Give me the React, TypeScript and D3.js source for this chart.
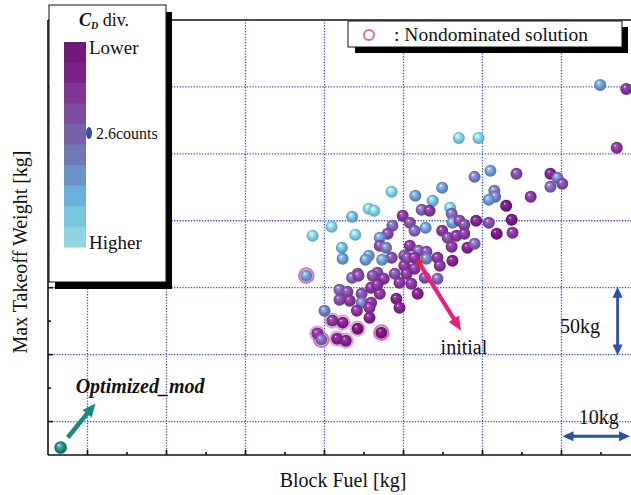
import React from "react";
import * as d3 from "d3";

// ---- data ----
const blockFuel = [
  64.9, 68.2, 47.0, 49.5, 67.0, 51.0, 49.0, 54.3, 58.6, 59.5, 60.1, 58.6, 44.9, 41.5, 51.5, 51.6, 50.8, 56.1, 53.0, 43.7,
  45.9, 42.3, 43.3, 38.5, 35.6, 36.3, 33.5, 30.9, 28.5, 33.9, 32.2, 32.3, 35.6, 35.2, 39.9, 38.6, 38.0, 37.0, 37.0, 37.8,
  38.5, 40.1, 37.3, 36.7, 38.9, 34.2, 40.1, 40.8, 42.8, 41.4, 46.1, 46.2, 47.1, 47.7, 49.2, 50.8, 53.7, 51.8, 53.8, 44.9,
  45.6, 46.7, 47.7, 46.1, 48.1, 49.0, 40.8, 41.9, 42.9, 40.5, 41.4, 42.9, 44.3, 46.2, 44.6, 41.4, 42.7, 44.3, 40.4, 27.7,
  33.5, 34.3, 36.1, 37.5, 39.5, 41.0, 41.8, 31.9, 32.9, 34.7, 35.9, 37.0, 31.9, 33.2, 34.7, 35.9, 34.1, 35.7, 39.1, 39.5,
  30.0, 31.0, 32.3, 35.7, 34.2, 37.2, 29.1, 29.6, 31.6, 32.7, 36.7,
];
const takeoffWeight = [
  251.5, 248.5, 211.9, 211.9, 204.5, 187.3, 182.8, 185.1, 185.1, 182.1, 177.6, 175.4, 174.6, 168.7, 172.4, 167.9, 165.7, 167.9, 161.2, 164.9,
  159.7, 158.2, 157.5, 171.6, 159.0, 157.5, 153.0, 145.5, 138.8, 139.6, 129.9, 121.6, 123.9, 120.9, 153.7, 146.3, 140.3, 137.3, 131.3, 129.9,
  122.4, 123.9, 120.9, 111.2, 110.4, 110.4, 116.4, 148.5, 144.8, 142.5, 155.2, 148.5, 150.0, 147.0, 150.0, 148.5, 150.7, 140.3, 141.0, 142.5,
  137.3, 138.8, 140.3, 130.6, 129.9, 132.8, 131.3, 127.6, 126.9, 122.4, 122.4, 121.6, 122.4, 120.1, 116.4, 114.2, 107.5, 106.7, 110.4, 109.0,
  107.5, 109.0, 109.0, 106.7, 103.7, 103.0, 95.5, 98.5, 97.0, 95.5, 100.0, 95.5, 91.0, 90.3, 88.8, 88.8, 82.8, 85.1, 91.8, 85.1,
  82.8, 75.4, 73.9, 77.6, 69.4, 66.4, 65.7, 61.2, 61.9, 60.4, 102.2,
];
// C_D divergence class: 0 = lower (purple) ... 9 = higher (cyan)
const cdDiv = [
  6, 2, 8, 8, 2, 6, 5, 3, 1, 5, 3, 4, 6, 6, 5, 5, 6, 2, 0, 7,
  8, 4, 2, 8, 8, 8, 7, 8, 8, 8, 7, 6, 6, 6, 2, 4, 3, 6, 3, 5,
  3, 3, 6, 3, 3, 3, 2, 3, 6, 4, 4, 6, 3, 3, 1, 3, 0, 0, 2, 2,
  3, 2, 2, 2, 1, 4, 2, 4, 3, 3, 2, 5, 2, 1, 2, 2, 3, 4, 2, 6,
  4, 3, 3, 2, 2, 2, 1, 4, 3, 3, 2, 2, 3, 2, 5, 2, 2, 2, 1, 1,
  5, 2, 1, 1, 0, 0, 2, 4, 1, 1, 2,
];
// 0 = dominated, 1 = nondominated (ring), 2 = nondominated (soft halo)
const nondominated = [
  0, 0, 0, 0, 0, 0, 0, 0, 0, 0, 0, 0, 0, 0, 0, 0, 0, 0, 0, 0,
  0, 0, 0, 0, 0, 0, 0, 0, 0, 0, 0, 0, 0, 0, 0, 0, 0, 0, 0, 0,
  0, 0, 0, 0, 0, 0, 0, 0, 0, 0, 0, 0, 0, 0, 0, 0, 0, 0, 0, 0,
  0, 0, 0, 0, 0, 0, 0, 0, 0, 0, 0, 0, 0, 0, 0, 0, 0, 0, 0, 1,
  0, 0, 0, 0, 0, 0, 0, 0, 0, 0, 0, 0, 0, 0, 0, 0, 0, 0, 0, 0,
  0, 2, 2, 0, 2, 1, 2, 1, 2, 2, 0,
];
const cdColors = ["#71197a", "#7a2386", "#803493", "#7c4b9d", "#7762aa", "#7079b6", "#6a92c7", "#69b0dd", "#79c4e1", "#92d3e2"];

const optimizedMod = { x: -3.4, y: -19.4 };
const initialPoint = { x: 42.0, y: 118.7 };
const initialArrowEnd = { x: 47.3, y: 67.9 };
const optArrowStart = { x: -2.5, y: -11.9 };
const optArrowEnd = { x: 1.0, y: 13.4 };
const xMajor = [0, 10, 20, 30, 40, 50, 60];
const xMinor = [5, 15, 25, 35, 45, 55, 65];
const yMajor = [0, 50, 100, 150, 200, 250];
const yMinor = [25, 75, 125, 175, 225, 275];

const W = 631, H = 495;
const L = 48, R = 631, T = 20, B = 455;
const x = d3.scaleLinear().domain([-5, 68.8]).range([L, R]);
const y = d3.scaleLinear().domain([-25, 300]).range([B, T]);

const gridColor = "#3d55c8";
const serif = "'Liberation Serif', 'DejaVu Serif', serif";

function arrowHead(x1: number, y1: number, x2: number, y2: number, len: number, half: number) {
  const a = Math.atan2(y2 - y1, x2 - x1);
  const bx = x2 - len * Math.cos(a), by = y2 - len * Math.sin(a);
  const px = -Math.sin(a) * half, py = Math.cos(a) * half;
  return `M${x2},${y2}L${bx + px},${by + py}L${bx - px},${by - py}Z`;
}

function Arrow({ x1, y1, x2, y2, color, width, len, half, both }: any) {
  const a = Math.atan2(y2 - y1, x2 - x1);
  const sx = both ? x1 + len * 0.8 * Math.cos(a) : x1;
  const sy = both ? y1 + len * 0.8 * Math.sin(a) : y1;
  const ex = x2 - len * 0.8 * Math.cos(a), ey = y2 - len * 0.8 * Math.sin(a);
  return (
    <g>
      <line x1={sx} y1={sy} x2={ex} y2={ey} stroke={color} strokeWidth={width} />
      <path d={arrowHead(x1, y1, x2, y2, len, half)} fill={color} />
      {both && <path d={arrowHead(x2, y2, x1, y1, len, half)} fill={color} />}
    </g>
  );
}

export default function App() {
  const pts = blockFuel.map((bf, i) => ({ bf, tw: takeoffWeight[i], cd: cdDiv[i], nd: nondominated[i] }));
  const bandH = (247 - 42) / cdColors.length;
  return (
    <svg width={W} height={H} style={{ position: "absolute", left: 0, top: 0, background: "#fff" }} fontFamily={serif}>
      <defs>
        {cdColors.map((c, i) => (
          <radialGradient key={i} id={`ball${i}`} cx="0.5" cy="0.5" r="0.55" fx="0.35" fy="0.3">
            <stop offset="0" stopColor="#ffffff" />
            <stop offset="0.18" stopColor={d3.color(c)!.brighter(0.9).formatHex()} />
            <stop offset="0.6" stopColor={c} />
            <stop offset="1" stopColor={d3.color(c)!.darker(0.7).formatHex()} />
          </radialGradient>
        ))}
        <radialGradient id="ballTeal" cx="0.5" cy="0.5" r="0.55" fx="0.35" fy="0.3">
          <stop offset="0" stopColor="#ffffff" />
          <stop offset="0.2" stopColor="#4fb8ad" />
          <stop offset="0.6" stopColor="#16877c" />
          <stop offset="1" stopColor="#0b5a52" />
        </radialGradient>
        <clipPath id="plotClip"><rect x={L} y={T} width={R - L} height={B - T} /></clipPath>
      </defs>

      {/* grid */}
      <g stroke={gridColor} strokeWidth={1.3} strokeDasharray="1.3 1.5" fill="none">
        {xMajor.map((v) => <line key={"gx" + v} x1={x(v)} x2={x(v)} y1={B} y2={T} />)}
        {yMajor.map((v) => <line key={"gy" + v} x1={L} x2={R} y1={y(v)} y2={y(v)} />)}
      </g>

      {/* axes */}
      <g stroke="#111" strokeWidth={1.6}>
        <line x1={L} x2={R} y1={B} y2={B} />
        <line x1={L} x2={L} y1={T} y2={B} />
        <line x1={L} x2={R} y1={T} y2={T} />
        {xMajor.map((v) => <line key={"tx" + v} x1={x(v)} x2={x(v)} y1={B} y2={B - 5} />)}
        {xMinor.map((v) => <line key={"tm" + v} x1={x(v)} x2={x(v)} y1={B} y2={B - 3} />)}
        {yMajor.map((v) => <line key={"ty" + v} x1={L} x2={L + 5} y1={y(v)} y2={y(v)} />)}
        {yMinor.map((v) => <line key={"tn" + v} x1={L} x2={L + 3} y1={y(v)} y2={y(v)} />)}
      </g>

      {/* points */}
      <g clipPath="url(#plotClip)">
        {pts.map((p, i) => p.nd > 0 && (
          <circle key={"r" + i} cx={x(p.bf)} cy={y(p.tw)} r={7.3} fill={p.nd === 1 ? "#fff" : "#f3d6ea"}
            stroke="#d873b6" strokeWidth={p.nd === 1 ? 2 : 1.6} strokeOpacity={p.nd === 1 ? 1 : 0.6} />
        ))}
        {pts.map((p, i) => (
          <circle key={"p" + i} cx={x(p.bf)} cy={y(p.tw)} r={6} fill={`url(#ball${p.cd})`} />
        ))}
        <circle cx={x(optimizedMod.x)} cy={y(optimizedMod.y)} r={6.3} fill="url(#ballTeal)" />
      </g>

      {/* annotations */}
      <circle cx={x(initialPoint.x)} cy={y(initialPoint.y)} r={3.2} fill="#e02525" />
      <Arrow x1={x(initialPoint.x) + 1} y1={y(initialPoint.y) + 2} x2={x(initialArrowEnd.x)} y2={y(initialArrowEnd.y)}
        color="#e8207a" width={4.2} len={14} half={6} />
      <text x={x(44.7)} y={y(50.5)} fontSize={20} fill="#111">initial</text>

      <Arrow x1={x(optArrowStart.x)} y1={y(optArrowStart.y)} x2={x(optArrowEnd.x)} y2={y(optArrowEnd.y)}
        color="#178a7f" width={4.5} len={13} half={6} />
      <text x={x(-1.5)} y={y(21)} fontSize={20} fontWeight="bold" fontStyle="italic" fill="#111">Optimized_mod</text>

      <Arrow x1={x(67.1)} y1={y(100) - 1} x2={x(67.1)} y2={y(50) + 1} color="#2a4fae" width={2.8} len={11} half={5} both />
      <text x={x(59.8)} y={y(66.5)} fontSize={20} fill="#111">50kg</text>
      <Arrow x1={x(60) + 1} y1={y(-11)} x2={R - 1} y2={y(-11)} color="#2a4fae" width={2.8} len={11} half={5} both />
      <text x={x(62.2)} y={y(-2)} fontSize={20} fill="#111">10kg</text>

      {/* colour legend */}
      <rect x={55} y={12} width={117} height={277} fill="#000" />
      <rect x={49} y={5} width={117} height={277} fill="#fff" stroke="#111" strokeWidth={1} />
      <text x={79} y={26} fontSize={18} fill="#111">
        <tspan fontWeight="bold" fontStyle="italic">C</tspan>
        <tspan fontWeight="bold" fontStyle="italic" fontSize={10} dy={3}>D</tspan>
        <tspan dy={-3}> div.</tspan>
      </text>
      {cdColors.map((c, i) => (
        <rect key={"cb" + i} x={64} y={42 + i * bandH} width={22} height={bandH + 0.5} fill={c} />
      ))}
      <text x={89} y={54} fontSize={19} fill="#111">Lower</text>
      <text x={89} y={249} fontSize={19} fill="#111">Higher</text>
      <ellipse cx={89} cy={133} rx={3} ry={6} fill="#2d4fa6" />
      <text x={96} y={139} fontSize={16} fill="#111">2.6counts</text>

      {/* nondominated legend */}
      <rect x={355} y={27} width={273} height={26} fill="#000" />
      <rect x={348} y={21} width={274} height={26} fill="#fff" stroke="#111" strokeWidth={1} />
      <circle cx={369} cy={35} r={5} fill="none" stroke="#d36db2" strokeWidth={2} />
      <text x={394} y={41} fontSize={19.5} fill="#111">: Nondominated solution</text>

      {/* axis titles */}
      <text x={343} y={487} fontSize={20} textAnchor="middle" fill="#111">Block Fuel [kg]</text>
      <text transform="translate(27,252) rotate(-90)" fontSize={20} textAnchor="middle" fill="#111">Max Takeoff Weight [kg]</text>
    </svg>
  );
}
